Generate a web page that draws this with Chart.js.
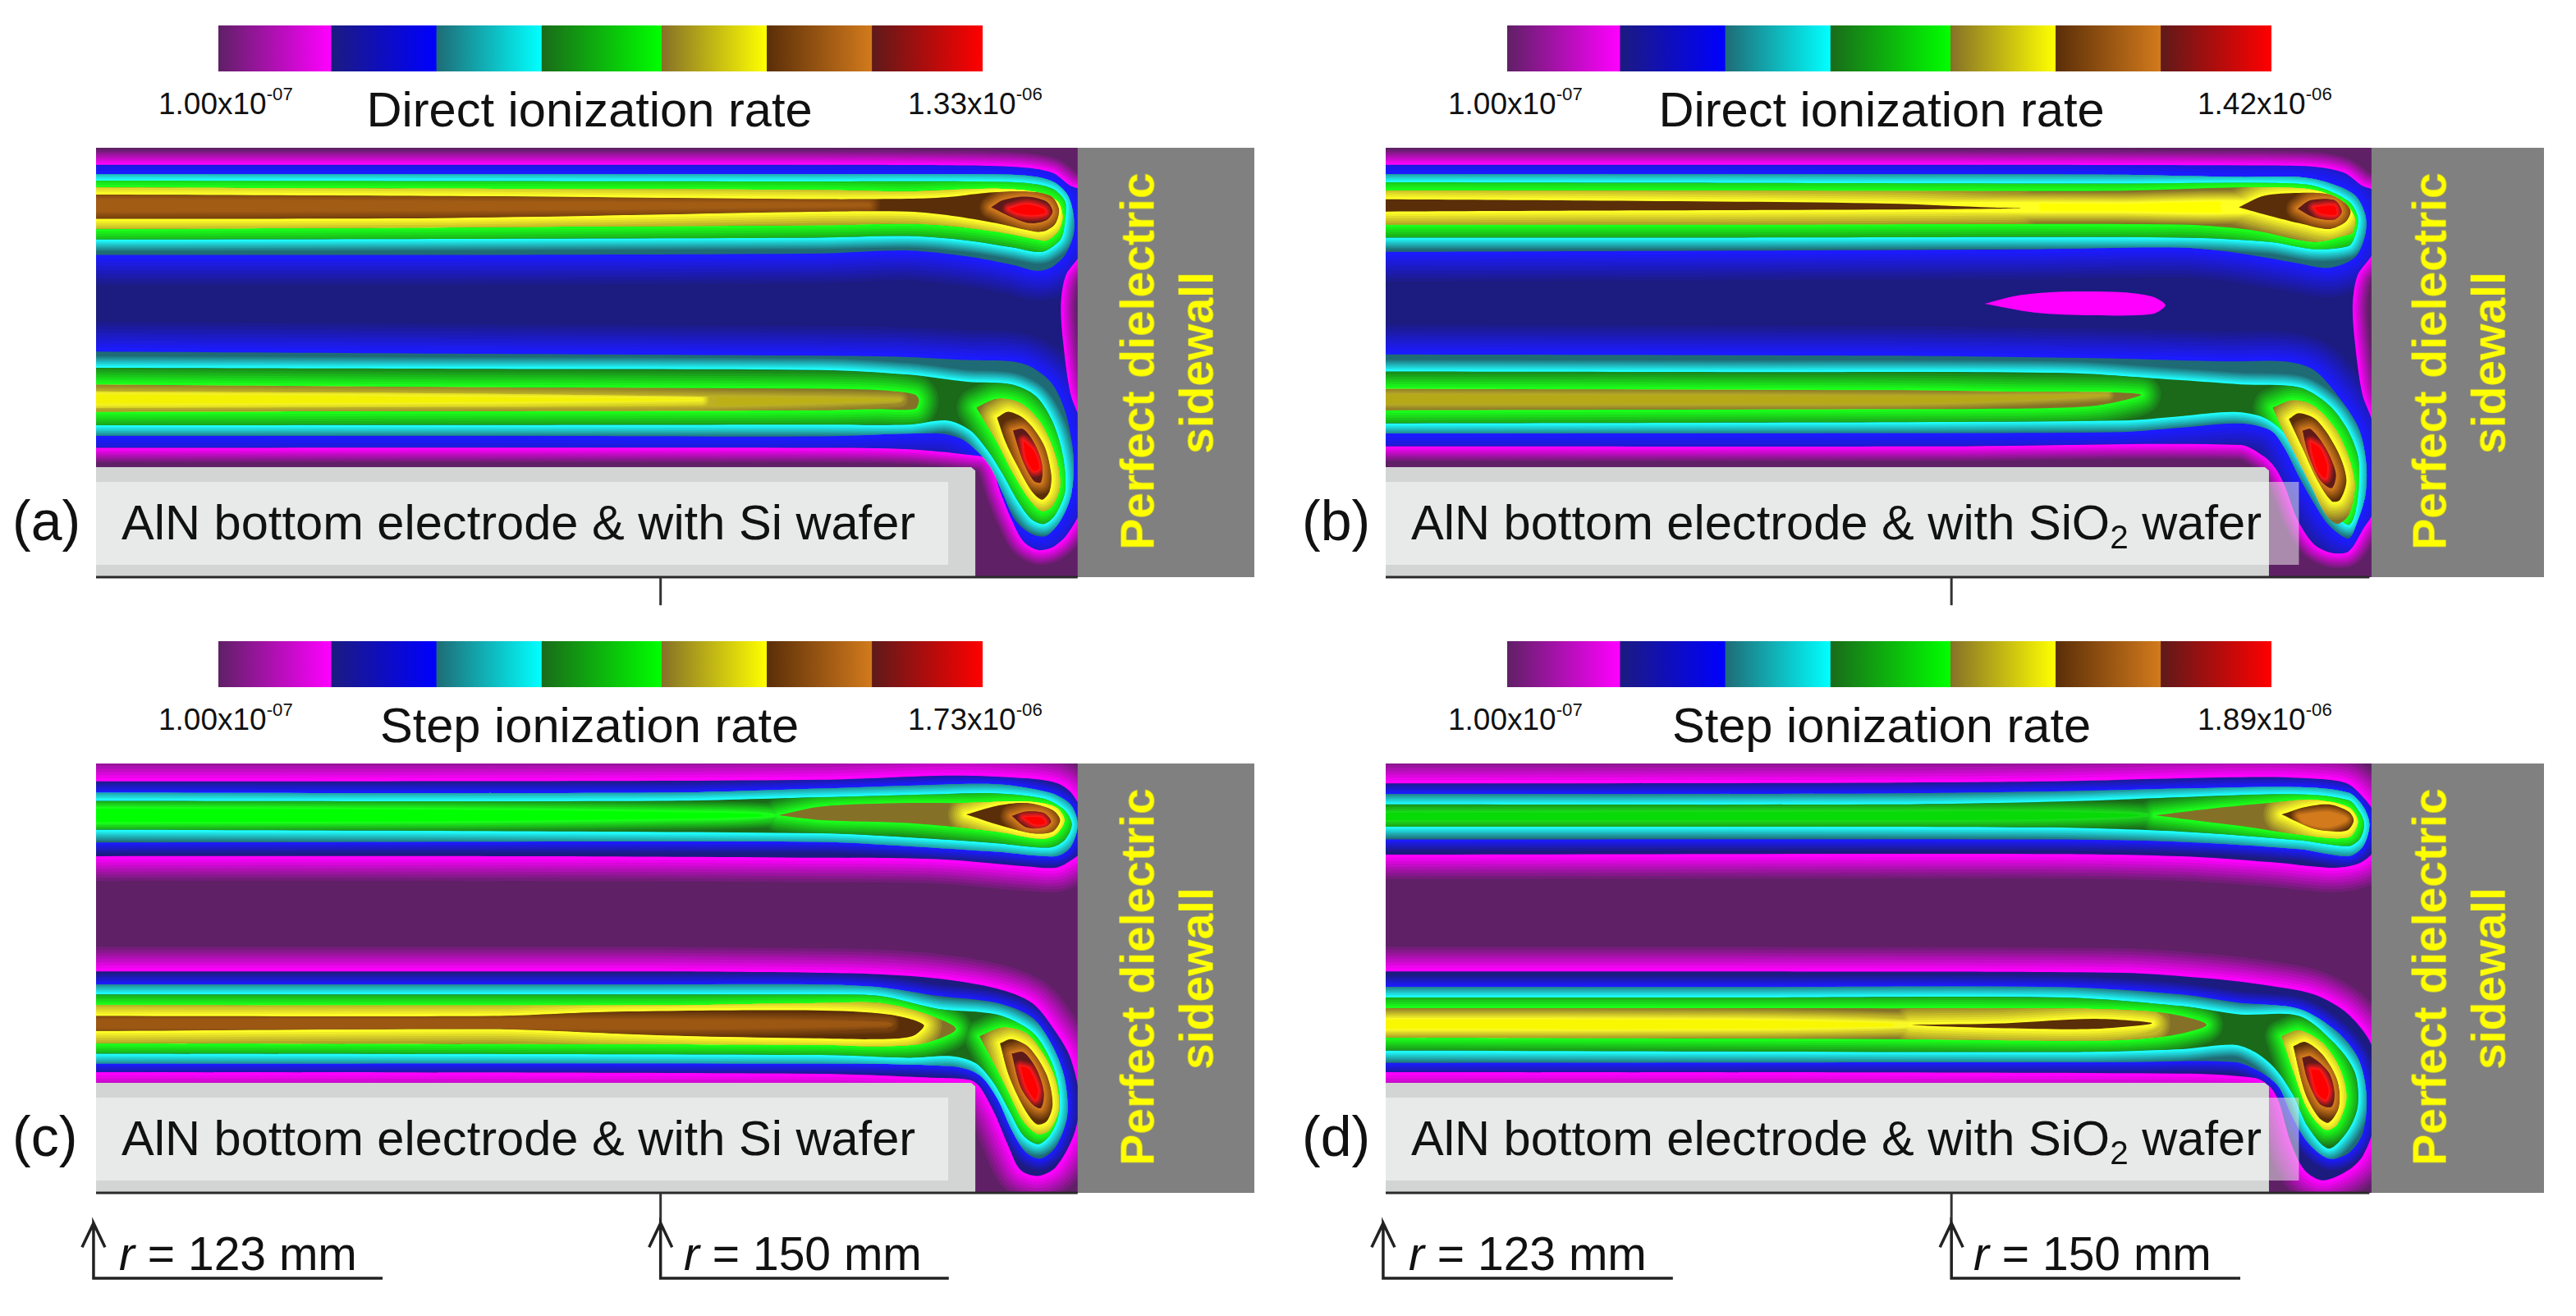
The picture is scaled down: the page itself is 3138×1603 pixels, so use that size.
<!DOCTYPE html>
<html>
<head>
<meta charset="utf-8">
<script src="https://cdn.jsdelivr.net/npm/chart.js@4"></script>
<style>
html, body { margin: 0; background: #fff; }
body { position: relative; width: 3138px; height: 1603px; overflow: hidden; font-family: "Liberation Sans", Arial, sans-serif; }
canvas { position: absolute; }
.t { position: absolute; white-space: nowrap; line-height: 0; color: #111; }
.t sup { font-size: 60%; vertical-align: 0.75em; line-height: 0; }
.t sub { font-size: 68%; vertical-align: -0.28em; line-height: 0; }
.wall { color: #ffff00; font-weight: bold; font-size: 57px; line-height: 1; transform: translate(-50%, -50%) rotate(-90deg); }
</style>
</head>
<body>
<script>
// contour outlines: [r mm, z mm]
// (a) direct ionization, Si wafer
const aBlue = [[116,19.74],[140,19.74],[157.7,19.74],[164.7,19.71],[167.5,19.61],[168.8,19.36],[169.65,18.74],[170.2,18.47],[170.2,15.64],[169.44,14.47],[169.2,13.09],[169.3,11.3],[169.65,8.81],[170.2,7.16],[170.2,3.43],[169.5,2.05],[168.8,1.43],[168.1,1.3],[167.4,1.71],[166.84,2.74],[166.28,4.12],[165.93,5.23],[165.57,5.71],[164.87,5.85],[161.92,6.12],[157.7,6.19],[116,6.19]];
const aCyanTop = [[116,19.29],[140,19.29],[157.7,19.3],[164.7,19.3],[167.5,19.23],[168.8,18.95],[169.5,18.33],[169.8,17.36],[169.8,16.4],[169.4,15.43],[168.7,14.81],[168,14.67],[166.9,14.95],[164.7,15.36],[161.9,15.64],[157.7,15.5],[140,15.43],[116,15.43]];
const aCyanLow = [[116,10.81],[140,10.7],[157.7,10.6],[161.9,10.54],[164.7,10.4],[166.85,10.33],[167.8,10.05],[168.8,9.23],[169.43,7.85],[169.8,5.78],[169.7,4],[169.2,2.74],[168.5,1.98],[167.8,2.05],[167,2.74],[166.42,4],[165.85,5.23],[165.3,5.92],[164.45,6.6],[163.33,6.88],[157.71,6.74],[140,6.77],[116,6.77]];
const aGreenTop = [[116,18.99],[140,18.97],[157.7,18.95],[164.7,18.95],[167.5,18.88],[168.8,18.6],[169.4,17.98],[169.4,17.09],[169.2,16.2],[168.5,15.64],[168,15.57],[166.9,15.78],[164.7,16.12],[161.9,16.33],[157.7,16.26],[140,16.2],[116,16.16]];
const aGreenLow = [[116,10.03],[140,9.98],[157.7,9.92],[161.9,9.7],[164.7,9.36],[166.85,9.23],[168,8.67],[168.8,7.44],[169.3,5.78],[169.4,4.13],[168.95,3.02],[168.4,2.55],[167.8,2.76],[167.1,3.7],[166.4,4.95],[165.7,6.05],[164.87,7.02],[163.75,7.5],[161.9,7.3],[157.7,7.3],[140,7.28],[116,7.27]];
const aYellowTop = [[116,18.67],[140,18.6],[157.7,18.54],[161.9,18.47],[166.1,18.6],[168.2,18.4],[169.05,17.98],[169.28,17.23],[169.05,16.54],[168.5,16.12],[167.97,16.19],[166.14,16.54],[164,16.81],[161.9,16.92],[157.7,16.85],[140,16.75],[116,16.67]];
const aYellowLow = [[116,9.23],[140,9.1],[157.7,9.02],[160.5,8.95],[162.2,8.75],[162.4,8.47],[162.2,8.05],[160.5,8.05],[157.7,7.99],[140,7.95],[116,7.92]];
const aYellowFoot = [[165.15,8.12],[166.14,8.54],[167.26,8.33],[168.24,7.37],[168.95,5.78],[169.16,4.4],[168.8,3.43],[168.3,3.16],[167.7,3.71],[166.84,5.09],[166.14,6.47]];
const aOliveRidge = [[116,8.9],[140,8.8],[152,8.65],[161.5,8.5],[152,8.2],[140,8.15],[116,8.1]];
const aYellowRidge = [[116,8.75],[135,8.68],[152,8.5],[135,8.35],[116,8.3]];
const aOrangeTop = [[116,18.33],[140,18.25],[157.7,18.1],[161.9,18.12],[163.7,18.19],[165.6,18.4],[167.5,18.47],[168.7,18.26],[169.1,17.64],[168.95,16.95],[168.5,16.6],[168,16.54],[166.1,16.95],[164,17.3],[161.9,17.5],[157.7,17.5],[140,17.2],[116,17.16]];
const aOrangeRidge = [[116,18.05],[140,17.95],[160,17.82],[140,17.6],[116,17.55]];
const aOrangeFoot = [[166.14,7.64],[166.7,7.92],[167.54,7.5],[168.38,6.33],[168.73,4.95],[168.66,4.12],[168.3,3.71],[167.8,4.12],[167.1,5.36],[166.55,6.47]];
const aRedTop = [[165.86,17.71],[166.42,18.05],[167.54,18.22],[168.52,17.98],[168.8,17.5],[168.5,17.09],[167.7,16.95],[166.7,17.3]];
const aRedFoot = [[166.9,7.02],[167.4,7.09],[167.97,6.33],[168.3,5.36],[168.24,4.54],[167.9,4.61],[167.4,5.5]];
const aCoreTop = [[166.7,17.64],[167.54,17.85],[168.38,17.64],[168.45,17.43],[167.8,17.33],[167.1,17.43]];
const aCoreFoot = [[167.4,6.54],[167.9,6.05],[168.17,5.23],[167.9,5.09],[167.54,5.64]];

// (b) direct ionization, SiO2 wafer
const bBlue = [[116,19.74],[150,19.74],[165,19.71],[167.5,19.64],[168.8,19.36],[169.65,18.74],[170.2,18.47],[170.2,15.64],[169.44,14.47],[169.2,13.09],[169.3,11.3],[169.65,8.81],[170.2,7.16],[170.2,3.2],[169.7,2.3],[169,1.23],[168.19,1.16],[167.35,1.57],[166.57,2.74],[165.94,4.4],[165.5,5.23],[164.96,5.78],[163.84,6.33],[150,6.26],[116,6.26]];
const bIsland = [[151.61,13.09],[153.3,13.5],[155.4,13.67],[158.2,13.64],[159.62,13.43],[160.25,13.02],[159.62,12.6],[156.81,12.54],[154,12.67]];
const bCyanTop = [[116,19.29],[150,19.29],[158,19.27],[163.8,19.16],[166.6,19.16],[168.05,18.88],[169.3,18.3],[169.8,17.36],[169.8,16.4],[169.3,15.3],[168.05,14.81],[166.64,15.02],[163.84,15.5],[161,15.78],[154,15.7],[116,15.57]];
const bCyanLow = [[116,10.67],[147,10.6],[158.2,10.46],[163.1,10.33],[165.94,10.33],[167.35,9.92],[168.6,8.54],[169.5,7.1],[169.85,5.4],[169.8,3.9],[169.4,2.6],[169,1.85],[168.05,2.5],[167.35,3.55],[166.64,4.8],[165.94,6.19],[165.3,7.02],[163.84,7.36],[161,7.16],[158.2,6.95],[147,6.9],[116,6.88]];
const bGreenTop = [[116,18.91],[140,18.88],[158,18.85],[165.24,18.88],[167.35,18.74],[169,18],[169.45,17.2],[169.3,16.3],[169,15.85],[167.35,15.7],[165.24,16.05],[161,16.26],[140,16.26],[116,16.26]];
const bGreenLow = [[116,9.85],[140,9.82],[155.4,9.78],[161,9.43],[163.84,9.23],[166.64,9.09],[168.05,8.26],[168.9,7.16],[169.45,5.8],[169.5,4.4],[169.3,3],[169,2.5],[168.33,3.02],[167.63,4.12],[166.9,5.36],[165.94,6.88],[164.96,7.64],[163.55,7.91],[161,7.71],[158.2,7.5],[140,7.4],[116,7.36]];
const bYellowTop = [[116,18.5],[140,18.5],[158,18.5],[164.5,18.67],[167.35,18.54],[168.75,17.98],[169.3,17.2],[169.2,16.5],[169,16.4],[167.35,16.05],[164.5,16.6],[161,16.88],[140,16.88],[116,16.88]];
const bYellowLow = [[116,9.02],[147,8.95],[152.6,8.88],[159.06,8.76],[156.8,8.2],[151.2,8.06],[147,8.05],[116,7.99]];
const bYellowFoot = [[165.38,8.12],[166.36,8.47],[167.35,8.19],[168.33,7.16],[169,5.78],[169.3,4.4],[169.03,3.02],[168.47,2.55],[167.9,3.02],[167.2,4.4],[166.5,5.78],[165.8,7.16]];
const bYellowRidge = [[140,17.75],[150,17.9],[158,17.88],[164.5,17.95],[164.5,17.5],[158,17.52],[150,17.55]];
const bOliveRidge = [[116,8.75],[140,8.7],[150,8.65],[157.5,8.72],[150,8.35],[140,8.3],[116,8.3]];
const bOrangeSliver = [[116,18.1],[132.5,18.03],[147,17.89],[152,17.7],[153.4,17.67],[152,17.64],[147,17.6],[133,17.55],[116,17.5]];
const bOrangeTop = [[163.76,17.71],[164.96,18.26],[166.64,18.4],[168.05,18.33],[168.85,17.9],[169.1,17.5],[168.85,17],[168.05,16.67],[166.64,16.95],[165.24,17.3]];
const bOrangeFoot = [[166.15,7.57],[166.64,7.85],[167.5,7.5],[168.47,6.05],[168.9,4.67],[168.6,3.71],[168.2,3.64],[167.5,4.67],[166.8,6.19]];
const bRedTop = [[166.57,17.64],[167.2,18.05],[168.33,18.05],[168.68,17.5],[168.33,17.12],[167.35,17.23]];
const bRedFoot = [[166.8,7.02],[167.2,7.09],[167.9,6.19],[168.4,4.95],[168.2,4.26],[167.63,4.67],[167.07,5.92]];
const bCoreTop = [[167.35,17.71],[168.33,17.78],[168.4,17.36],[167.63,17.43]];
const bCoreFoot = [[167.2,6.47],[167.63,6.19],[167.98,5.36],[167.9,4.74],[167.55,5.09],[167.27,5.92]];

// (c) step ionization, Si wafer
const cBlueTop = [[116,19.71],[142,19.71],[157.7,19.78],[164,19.98],[167.5,19.85],[168.95,19.64],[169.65,19.2],[170.2,18.2],[170.2,16.4],[169.65,15.9],[168.95,15.57],[167.5,15.64],[163.3,15.98],[157.7,16.05],[142,16.12],[116,16.12]];
const cBlueLow = [[116,10.6],[150,10.6],[157.7,10.54],[160.5,10.47],[163.33,10.26],[166.14,9.78],[167.82,9.09],[168.95,7.71],[169.65,6.47],[170.1,4.4],[169.8,2.74],[168.95,1.23],[168.1,0.81],[167.26,1.1],[166.7,2.2],[166,3.85],[165.3,5.1],[164.87,5.4],[163.33,5.5],[157.7,5.7],[116,5.78]];
const cCyanTop = [[116,19.16],[150,19.16],[157.7,19.36],[161.9,19.5],[166.14,19.57],[168.66,19.16],[169.65,18.6],[170,17.64],[169.65,16.54],[168.95,16.12],[166.14,16.33],[161.9,16.6],[157.7,16.81],[116,16.77]];
const cCyanLow = [[116,9.98],[150,9.98],[157.7,9.98],[160.5,9.85],[163.33,9.43],[166.14,9.09],[167.82,8.4],[168.8,7.02],[169.37,5.5],[169.5,3.7],[168.95,2.2],[168.24,1.64],[167.54,1.92],[166.84,3.02],[166.14,4.54],[165.3,5.64],[164.03,6.05],[157.7,6.19],[116,6.19]];
const cGreenTop = [[116,18.77],[150,18.77],[157.7,18.95],[163.3,19.09],[166.14,19.13],[168.38,18.88],[169.37,18.33],[169.72,17.64],[169.37,16.88],[168.66,16.53],[166.14,16.74],[161.9,17.02],[157.7,17.22],[116,17.39]];
const cGreenLow = [[116,9.5],[150,9.5],[157.7,9.5],[160.5,9.43],[163.33,8.81],[166.14,8.54],[167.82,7.71],[168.66,6.47],[169.09,5.09],[169.09,3.71],[168.66,2.74],[168.1,2.33],[167.4,2.74],[166.7,3.98],[166,5.23],[165.15,6.19],[164.03,6.54],[161.92,6.47],[157.7,6.6],[116,6.67]];
const cGreenRidge = [[116,18.4],[140,18.35],[153,18.2],[155.5,18.08],[153,17.95],[140,17.8],[116,17.75]];
const cYellowTop = [[155.68,18.08],[157.71,18.5],[161.9,18.67],[164.7,18.67],[167.54,18.74],[168.95,18.47],[169.37,17.85],[168.95,17.16],[168.24,16.95],[166.14,17.3],[161.9,17.71],[157.71,17.85]];
const cYellowLow = [[116,8.98],[150,8.98],[157.71,9.09],[160.52,9.09],[162.63,8.6],[164.17,7.85],[162.63,7.16],[160.52,7.02],[157.71,7.09],[116,7.16]];
const cYellowFoot = [[165.3,7.5],[166.42,7.92],[167.54,7.64],[168.38,6.6],[168.95,5.36],[169.09,3.98],[168.66,3.02],[168.1,2.81],[167.4,3.43],[166.7,4.81],[166,6.19]];
const cOrangeTop = [[164.66,18.12],[166.14,18.54],[167.54,18.67],[168.8,18.33],[169.16,17.85],[168.8,17.3],[167.82,17.22],[166.14,17.64]];
const cOrangeLow = [[116,8.47],[142,8.47],[147.6,8.67],[157.44,8.74],[160.95,8.54],[162.63,8.05],[162.07,7.5],[160.25,7.36],[157.44,7.4],[151.82,7.5],[147.6,7.64],[142,7.84],[116,7.74]];
const cOrangeRidge = [[116,8.25],[150,8.25],[161,8.1],[150,7.9],[116,7.95]];
const cOrangeFoot = [[166.28,7.16],[166.84,7.36],[167.68,6.95],[168.52,5.64],[168.8,4.26],[168.52,3.43],[168.03,3.29],[167.4,4.12],[166.7,5.64]];
const cRedTop = [[166.84,18.05],[167.54,18.26],[168.38,18.19],[168.73,17.78],[168.38,17.5],[167.54,17.5]];
const cRedFoot = [[166.84,6.67],[167.4,6.74],[168.03,5.92],[168.38,4.81],[168.24,4.06],[167.82,4.26],[167.26,5.09]];
const cCoreTop = [[167.4,17.98],[168.24,17.98],[168.45,17.71],[167.97,17.64]];
const cCoreFoot = [[167.26,6.05],[167.68,5.92],[168.1,4.95],[167.97,4.47],[167.54,5.09]];

// (d) step ionization, SiO2 wafer
const dBlueTop = [[116,19.6],[147,19.64],[155.4,19.71],[161,19.85],[165.24,19.91],[168.05,19.78],[169,19.57],[169.65,19],[170.2,18.2],[170.2,16.4],[169.65,15.85],[169,15.64],[168.05,15.57],[165.24,15.84],[161,16.12],[154,16.23],[116,16.19]];
const dBlueLow = [[116,10.6],[140,10.6],[158.2,10.54],[162.43,10.26],[165.24,9.92],[167.35,9.5],[169,8.54],[170.2,6.8],[170.2,3.2],[169.7,1.8],[169,1.09],[167.77,0.6],[166.9,1.09],[166.22,2.48],[165.66,4.4],[165.24,5.09],[164.53,5.5],[161,5.71],[116,5.78]];
const dCyanTop = [[116,19.09],[147,19.13],[155.4,19.23],[161,19.36],[166.64,19.43],[169,19.16],[169.7,18.5],[170,17.64],[169.7,16.6],[169,16.12],[166.64,16.46],[161,16.81],[154,16.92],[116,16.92]];
const dCyanLow = [[116,9.87],[140,9.86],[155.4,9.85],[161,9.5],[163.84,9.09],[166.64,8.81],[168.47,7.71],[169.45,6.47],[169.85,4.8],[169.7,2.9],[169,1.9],[168.05,1.64],[167,2.48],[166.22,3.85],[165.66,5.09],[164.8,5.78],[163.55,6.26],[158.2,6.26],[116,6.22]];
const dGreenTop = [[116,18.6],[147,18.6],[155.4,18.74],[161,18.95],[166.64,19.09],[169,18.81],[169.55,18.2],[169.75,17.64],[169.55,16.95],[169,16.6],[166.64,16.88],[161,17.3],[154,17.5],[116,17.53]];
const dGreenLow = [[116,9.36],[140,9.36],[155.4,9.36],[161,8.95],[163.84,8.54],[166.64,8.47],[168.33,7.16],[169.3,5.78],[169.45,4.2],[169,3.02],[168.05,2.12],[167.06,3.16],[166.36,4.68],[165.52,5.92],[164.53,6.74],[163.55,7.09],[161,6.88],[155.4,6.74],[116,6.81]];
const dGreenRidge = [[116,18.2],[147,18.25],[155,18.25],[159.5,18.08],[155,17.9],[147,17.85],[116,17.85]];
const dYellowTop = [[159.76,18.08],[162.43,18.4],[165.24,18.67],[167.35,18.81],[169,18.47],[169.45,17.78],[169,17.02],[166.64,17.16],[163.84,17.57],[161,17.92]];
const dYellowLow = [[116,8.84],[147,8.84],[156.81,8.81],[160.32,8.6],[162.22,8.05],[160.32,7.5],[156.81,7.29],[147,7.36],[116,7.43]];
const dYellowFoot = [[165.8,7.5],[166.64,7.78],[167.77,7.16],[168.6,5.92],[168.9,4.54],[168.47,3.29],[167.9,3.02],[167.06,3.98],[166.43,5.64]];
const dYellowRidge = [[116,8.3],[140,8.28],[149,8.05],[140,7.85],[116,7.85]];
const dOrangeTop = [[165.8,18.12],[166.9,18.47],[168.05,18.6],[169,18.26],[169.25,17.85],[169,17.4],[168.47,17.3],[167.35,17.43]];
const dOrangeRidge = [[166.64,18.05],[168,18.2],[168.9,17.9],[168,17.55],[166.9,17.75]];
const dOrangeLow = [[148.1,8.05],[152.6,8.12],[156.81,8.33],[159.62,8.12],[156.81,7.85],[152.6,7.88],[149.1,7.99]];
const dOrangeFoot = [[166.36,7.02],[166.92,7.23],[167.77,6.6],[168.47,5.36],[168.54,4.12],[168.05,3.36],[167.56,3.64],[166.92,4.81]];
const dRedFoot = [[166.78,6.47],[167.2,6.54],[168.05,5.78],[168.33,4.81],[168.19,4.12],[167.63,4.26],[167.06,5.36]];
const dCoreFoot = [[167.2,5.92],[167.63,5.85],[168.05,4.95],[167.9,4.47],[167.49,4.81]];

// schematic parts around the plasma region
const sidewallSi = [[170,-0.05],[170,20.6],[178.6,20.6],[178.6,-0.05]];
const sidewallSio2 = [[170.1,-0.05],[170.1,20.6],[178.6,20.6],[178.6,-0.05]];
const siBox = [[116,5.27],[164.9,5.27],[165.1,5.1],[165.1,0],[116,0]];
const siBoxInner = [[116,4.56],[163.8,4.56],[163.8,0.59],[116,0.59]];
const sio2Box = [[116,5.27],[165,5.27],[165.2,5.1],[165.2,0],[116,0]];
const sio2BoxInner = [[116,4.56],[165.2,4.56],[165.2,0.59],[116,0.59]];
const sio2Strip = [[165.2,4.56],[166.63,4.56],[166.63,0.59],[165.2,0.59]];
const baseLine = [[123,0],[170,0]];
const stemTop = [[150.03,0],[150.03,-1.35]];
const stemLow = [[150.03,0],[150.03,-1.45]];
const arrow123 = [[122.33,-2.6],[122.88,-1.45],[123.43,-2.6],[122.88,-1.45],[122.88,-4.09],[136.72,-4.09]];
const arrow150 = [[149.48,-2.6],[150.03,-1.45],[150.58,-2.6],[150.03,-1.45],[150.03,-4.09],[163.83,-4.09]];

// colour scale
const scaleSegments = [14.73, 13.76, 13.77, 15.7, 13.76, 13.76, 14.52];
const bandDark = ["#5f2066", "#1c1b80", "#1f6b75", "#1a6a1a", "#857028", "#5a2e08", "#5e1a1a"];
const bandBright = ["#ff00ff", "#0000ff", "#00ffff", "#00ff00", "#ffff00", "#d27a1c", "#ff0000"];

const panelLetters = ["(a)", "(b)", "(c)", "(d)"];
const panelTitles = ["Direct ionization rate", "Direct ionization rate", "Step ionization rate", "Step ionization rate"];
const scaleMin = "1.00x10<sup>-07</sup>";
const scaleMax = ["1.33x10<sup>-06</sup>", "1.42x10<sup>-06</sup>", "1.73x10<sup>-06</sup>", "1.89x10<sup>-06</sup>"];
const boxLabels = ["AlN bottom electrode &amp; with Si wafer", "AlN bottom electrode &amp; with SiO<sub>2</sub> wafer", "AlN bottom electrode &amp; with Si wafer", "AlN bottom electrode &amp; with SiO<sub>2</sub> wafer"];
const markerLabels = ["<i>r</i> = 123 mm", "<i>r</i> = 150 mm"];

// [outline, level, parent outline] or, for a ridge inside a band, [outline, band, parent, shade, glow]
const layersA = [[aBlue,1,null],[aCyanTop,2,aBlue],[aCyanLow,2,aBlue],[aGreenTop,3,aCyanTop],[aGreenLow,3,aCyanLow],
    [aYellowTop,4,aGreenTop],[aYellowLow,4,aGreenLow],[aYellowFoot,4,aGreenLow],[aOliveRidge,4,aYellowLow,0.45,10],[aYellowRidge,4,aOliveRidge,0.9,18],
    [aOrangeTop,5,aYellowTop],[aOrangeRidge,5,aOrangeTop,0.6,14],[aOrangeFoot,5,aYellowFoot],
    [aRedTop,6,aOrangeTop],[aRedFoot,6,aOrangeFoot],[aCoreTop,7,aRedTop],[aCoreFoot,7,aRedFoot]];
const layersB = [[bBlue,1,null],[bIsland,0,bBlue,1,0],[bCyanTop,2,bBlue],[bCyanLow,2,bBlue],[bGreenTop,3,bCyanTop],[bGreenLow,3,bCyanLow],
    [bYellowTop,4,bGreenTop],[bYellowLow,4,bGreenLow],[bYellowFoot,4,bGreenLow],[bYellowRidge,4,bYellowTop,1,14],[bOliveRidge,4,bYellowLow,0.4,8],
    [bOrangeSliver,5,bYellowTop],[bOrangeTop,5,bYellowTop],[bOrangeFoot,5,bYellowFoot],
    [bRedTop,6,bOrangeTop],[bRedFoot,6,bOrangeFoot],[bCoreTop,7,bRedTop],[bCoreFoot,7,bRedFoot]];
const layersC = [[cBlueTop,1,null],[cBlueLow,1,null],[cCyanTop,2,cBlueTop],[cCyanLow,2,cBlueLow],[cGreenTop,3,cCyanTop],[cGreenLow,3,cCyanLow],
    [cGreenRidge,3,cGreenTop,1,14],[cYellowTop,4,cGreenTop],[cYellowLow,4,cGreenLow],[cYellowFoot,4,cGreenLow],
    [cOrangeTop,5,cYellowTop],[cOrangeLow,5,cYellowLow],[cOrangeRidge,5,cOrangeLow,0.55,12],[cOrangeFoot,5,cYellowFoot],
    [cRedTop,6,cOrangeTop],[cRedFoot,6,cOrangeFoot],[cCoreTop,7,cRedTop],[cCoreFoot,7,cRedFoot]];
const layersD = [[dBlueTop,1,null],[dBlueLow,1,null],[dCyanTop,2,dBlueTop],[dCyanLow,2,dBlueLow],[dGreenTop,3,dCyanTop],[dGreenLow,3,dCyanLow],
    [dGreenRidge,3,dGreenTop,0.75,14],[dYellowTop,4,dGreenTop],[dYellowLow,4,dGreenLow],[dYellowFoot,4,dGreenLow],[dYellowRidge,4,dYellowLow,0.95,14],
    [dOrangeTop,5,dYellowTop],[dOrangeRidge,5,dOrangeTop,1,10],[dOrangeLow,5,dYellowLow],[dOrangeFoot,5,dYellowFoot],
    [dRedFoot,6,dOrangeFoot],[dCoreFoot,7,dRedFoot]];

const glowDirect = [18, 36, 14, 24, 22, 14, 8];
const glowStep = [30, 14, 14, 20, 22, 14, 8];
const glowSteps = 8;

const hexToRgb = h => [1, 3, 5].map(i => parseInt(h.substr(i, 2), 16));
const mixHex = (a, b, t) => {
    const ca = hexToRgb(a), cb = hexToRgb(b);
    return `rgb(${ca.map((v, i) => Math.round(v + (cb[i] - v) * t)).join(",")})`;
};

const closed = pts => pts.concat([pts[0]]);

// outlines that run off the left edge get a straight lead-in there, so the curve does not swing at the turn
const contourPath = pts => {
    const path = pts.slice();
    const last = pts[pts.length - 1];
    if (pts[0][0] === 116) {
        path.splice(1, 0, [121, pts[0][1]]);
        path.splice(path.length - 1, 0, [121, last[1]]);
    }
    return closed(path);
};

const flatShape = (pts, color) => ({
    data: closed(pts), showLine: true, fill: "shape", backgroundColor: color,
    borderWidth: 0, pointRadius: 0, tension: 0, clip: 0
});
const stroke = (pts, color, width) => ({
    data: pts, showLine: true, fill: false, borderColor: color, borderWidth: width,
    pointRadius: 0, tension: 0, clip: false
});

// one band: stepped glow strokes towards the band's bright end, clipped to the parent, then the fill
const buildDatasets = (layers, glow, wall, box, inner, strip, stem, markers) => {
    const datasets = [flatShape([[116, -1], [116, 22], [180, 22], [180, -1]], bandDark[0])];
    const fillIndex = new Map();
    layers.forEach(([pts, level, parent, shade, ridgeGlow]) => {
        const isRidge = shade !== undefined;
        const band = isRidge ? level : level - 1;
        const top = isRidge ? mixHex(bandDark[band], bandBright[band], shade) : bandBright[band];
        const reach = isRidge ? ridgeGlow : glow[band];
        const clipTo = parent ? fillIndex.get(parent) : null;
        const path = contourPath(pts);
        for (let k = 1; reach > 0 && k <= glowSteps; k++) {
            const color = isRidge ? mixHex(bandDark[band], bandBright[band], shade * k / glowSteps)
                : mixHex(bandDark[band], bandBright[band], k / glowSteps);
            datasets.push({
                data: path, showLine: true, fill: false, borderColor: color,
                borderWidth: 2 * reach * (glowSteps - k + 1) / glowSteps,
                borderJoinStyle: "round", borderCapStyle: "round",
                pointRadius: 0, tension: 0.3, clip: 0, clipTo
            });
        }
        fillIndex.set(pts, datasets.length);
        const fillColor = isRidge ? top : (level < 7 ? bandDark[level] : bandBright[6]);
        datasets.push({
            data: path, showLine: true, fill: "shape", backgroundColor: fillColor, borderWidth: 0,
            pointRadius: 0, tension: 0.3, clip: 0
        });
    });
    datasets.push(flatShape(wall, "#808080"));
    datasets.push(flatShape(box, "#d3d4d4"));
    datasets.push(flatShape(inner, "#e8e9e9"));
    if (strip) datasets.push(flatShape(strip, "rgba(232,226,232,0.55)"));
    datasets.push(stroke(baseLine, "#2a2a2a", 3));
    datasets.push(stroke(stem, "#333333", 3));
    if (markers) {
        datasets.push(stroke(arrow123, "#222222", 3.5));
        datasets.push(stroke(arrow150, "#222222", 3.5));
    }
    datasets.forEach((d, i) => { d.order = -i; });
    return datasets;
};

// keep a glow inside the contour that encloses it, and never let a glow darken what is already there
const parentClip = {
    id: "parentClip",
    beforeDatasetDraw(chart, args) {
        const d = chart.data.datasets[args.index];
        if (d.clipTo === null || d.clipTo === undefined) return;
        const ctx = chart.ctx;
        const parent = chart.getDatasetMeta(d.clipTo).dataset;
        ctx.save();
        ctx.beginPath();
        parent.path(ctx);
        ctx.closePath();
        ctx.clip();
        ctx.globalCompositeOperation = "lighten";
    },
    afterDatasetDraw(chart, args) {
        const d = chart.data.datasets[args.index];
        if (d.clipTo === null || d.clipTo === undefined) return;
        chart.ctx.restore();
    }
};

const addCanvas = (left, top, width, height) => {
    const c = document.createElement("canvas");
    c.width = width; c.height = height;
    c.style.left = left + "px"; c.style.top = top + "px";
    c.style.width = width + "px"; c.style.height = height + "px";
    document.body.appendChild(c);
    return c;
};

const addText = (html, left, baseline, size, extra) => {
    const s = document.createElement("span");
    s.className = "t";
    s.innerHTML = html;
    s.style.left = left + "px";
    s.style.top = (baseline - 0.3465 * size) + "px";
    s.style.fontSize = size + "px";
    if (extra) Object.assign(s.style, extra);
    document.body.appendChild(s);
    return s;
};

const addWall = (html, x, y) => {
    const s = document.createElement("span");
    s.className = "t wall";
    s.innerHTML = html;
    s.style.left = x + "px";
    s.style.top = y + "px";
    document.body.appendChild(s);
};

const drawPanel = (idx, dx, dy, layers, glow, xMax, wall, box, inner, strip, stem, markers) => {
    const padLeft = 30, padBottom = 120;
    const canvas = addCanvas(117 + dx - padLeft, 180 + dy, 1411 + padLeft, 523 + padBottom);
    new Chart(canvas.getContext("2d"), {
        type: "scatter",
        data: { datasets: buildDatasets(layers, glow, wall, box, inner, strip, stem, markers) },
        options: {
            responsive: false, animation: false, events: [],
            layout: { padding: { left: padLeft, bottom: padBottom, top: 0, right: 0 } },
            plugins: { legend: { display: false }, tooltip: { enabled: false } },
            scales: {
                x: { type: "linear", min: 123, max: xMax, display: false },
                y: { type: "linear", min: 0, max: 20.56, display: false }
            }
        },
        plugins: [parentClip]
    });

    // colour scale
    const barLeft = 266 + dx + (dx ? -1 : 0);
    const barCanvas = addCanvas(barLeft, 31 + dy, 931, 56);
    new Chart(barCanvas.getContext("2d"), {
        type: "bar",
        data: {
            labels: ["rate"],
            datasets: scaleSegments.map((seg, i) => ({
                data: [seg],
                borderWidth: 0,
                barPercentage: 1,
                categoryPercentage: 1,
                backgroundColor: c => {
                    const w = c.chart.width;
                    const start = scaleSegments.slice(0, i).reduce((a, b) => a + b, 0);
                    const g = c.chart.ctx.createLinearGradient(w * start / 100, 0, w * (start + seg) / 100, 0);
                    g.addColorStop(0, bandDark[i]);
                    g.addColorStop(1, bandBright[i]);
                    return g;
                }
            }))
        },
        options: {
            indexAxis: "y", responsive: false, animation: false, events: [],
            plugins: { legend: { display: false }, tooltip: { enabled: false } },
            scales: {
                x: { stacked: true, min: 0, max: 100, display: false },
                y: { stacked: true, display: false }
            }
        }
    });

    // texts
    const titleShift = dx ? 3 : 0;
    addText(panelLetters[idx], 15 + dx, 658 + dy, 68);
    addText(panelTitles[idx], 0, 155 + dy, 59.6, { left: (718 + dx + titleShift) + "px", transform: "translateX(-50%)" });
    addText(scaleMin, 193 + dx, 128 + dy, 37);
    addText(scaleMax[idx], 1106 + dx, 128 + dy, 37);
    addText(boxLabels[idx], 148 + dx, 658 + dy, 59.6);
    addWall("Perfect dielectric", 1386 + dx + titleShift, 440 + dy);
    addWall("sidewall", 1458 + dx + titleShift, 442 + dy);
    if (markers) {
        addText(markerLabels[0], 145 + dx, 797 + dy, 57);
        addText(markerLabels[1], 833 + dx, 797 + dy, 57);
    }
};

drawPanel(0, 0, 0, layersA, glowDirect, 178.46, sidewallSi, siBox, siBoxInner, null, stemTop, false);
drawPanel(1, 1571, 0, layersB, glowDirect, 178.34, sidewallSio2, sio2Box, sio2BoxInner, sio2Strip, stemTop, false);
drawPanel(2, 0, 750, layersC, glowStep, 178.46, sidewallSi, siBox, siBoxInner, null, stemLow, true);
drawPanel(3, 1571, 750, layersD, glowStep, 178.34, sidewallSio2, sio2Box, sio2BoxInner, sio2Strip, stemLow, true);
</script>
</body>
</html>
